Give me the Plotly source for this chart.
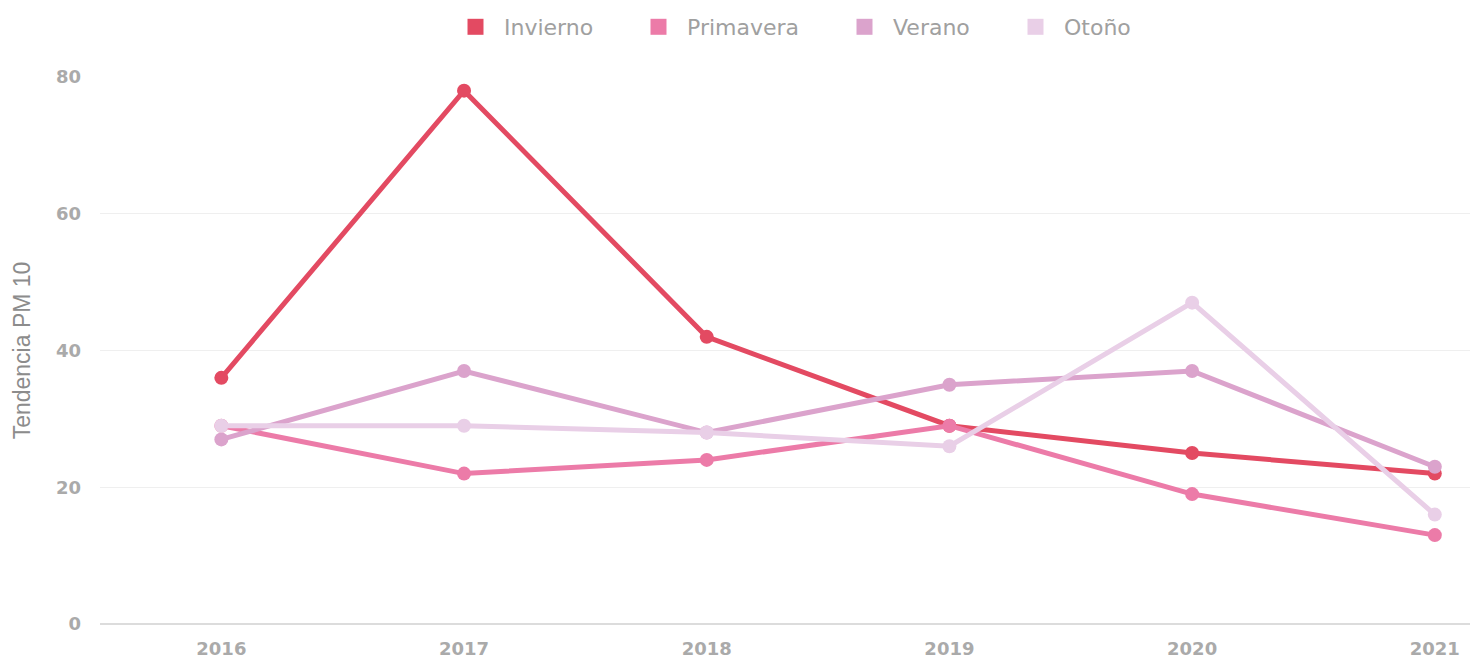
import plotly.graph_objects as go

years = [2016, 2017, 2018, 2019, 2020, 2021]
series_names = ["Invierno", "Primavera", "Verano", "Otoño"]
invierno = [36, 78, 42, 29, 25, 22]
primavera = [29, 22, 24, 29, 19, 13]
verano = [27, 37, 28, 35, 37, 23]
otono = [29, 29, 28, 26, 47, 16]
colors = ["#E34A62", "#EC7BA8", "#DBA3CC", "#E9CFE7"]
y_ticks = [0, 20, 40, 60, 80]

# left edge (px) of each legend entry along the top row
legend_left_px = [447, 630, 836, 1007]
W, H = 1470, 660

fig = go.Figure()
for name, vals, col in zip(series_names, [invierno, primavera, verano, otono], colors):
    fig.add_trace(go.Scatter(
        x=years, y=vals, mode="lines+markers", name=name,
        line=dict(color=col, width=5),
        marker=dict(color=col, size=14),
        showlegend=False,
    ))

legend_ids = ["legend", "legend2", "legend3", "legend4"]
for name, col, lid in zip(series_names, colors, legend_ids):
    fig.add_trace(go.Scatter(
        x=[None], y=[None], mode="markers", name=name,
        marker=dict(color=col, size=19, symbol="square"),
        showlegend=True, legend=lid,
    ))

legend_style = dict(
    orientation="h", xref="container", yref="container",
    xanchor="left", yanchor="middle", y=1 - 27 / H,
    font=dict(size=22, color="#A0A0A0", family="DejaVu Sans, sans-serif"),
    itemwidth=47, bgcolor="rgba(0,0,0,0)", borderwidth=0,
)
legends = {}
for lid, px in zip(legend_ids, legend_left_px):
    legends[lid] = dict(legend_style, x=px / W)

tick_font = dict(size=18, color="#AAAAAA", family="DejaVu Sans, sans-serif", weight="bold")

fig.update_layout(
    width=W, height=H,
    margin=dict(l=100, r=0, t=77, b=36),
    plot_bgcolor="white", paper_bgcolor="white",
    font=dict(family="DejaVu Sans, sans-serif", color="#A6A6A6"),
    xaxis=dict(
        range=[2015.5, 2021.145], tickvals=years, ticktext=[str(y) for y in years],
        showgrid=False, zeroline=False, showline=False,
        tickfont=tick_font, ticks="", ticklabelstandoff=12,
    ),
    yaxis=dict(
        range=[0, 80], tickvals=y_ticks,
        showgrid=True, gridcolor="#EFEFEF", gridwidth=1.2,
        zeroline=True, zerolinecolor="#DCDCDC", zerolinewidth=2,
        tickfont=tick_font, ticks="", ticklabelstandoff=18,
        title=dict(text="Tendencia PM 10", font=dict(size=23, color="#8C8C8C",
                   family="Liberation Sans, Arial, sans-serif"), standoff=18),
    ),
    **legends,
)

fig.write_html("out.html")
